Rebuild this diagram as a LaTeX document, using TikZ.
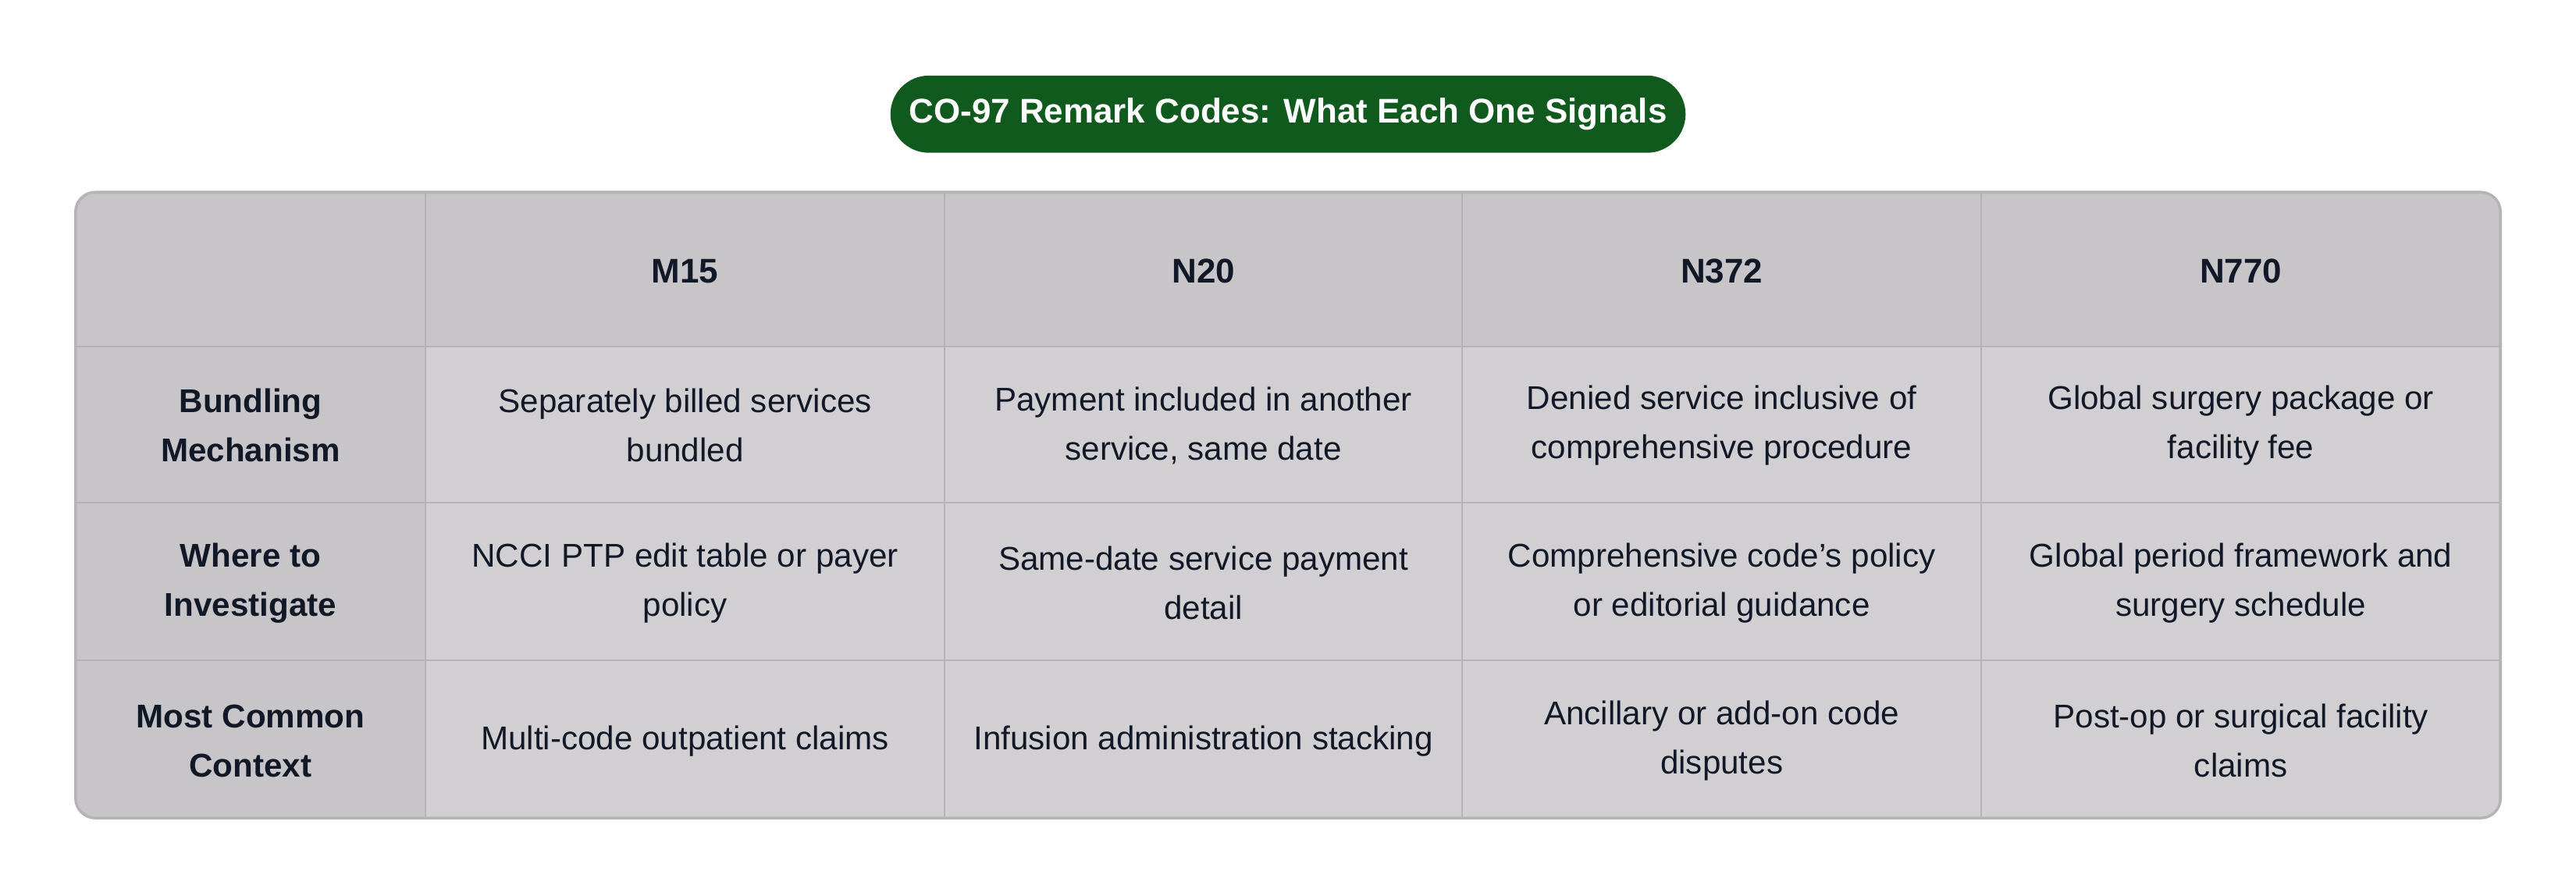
\documentclass[tikz,border=0pt]{standalone}
\usepackage{fontspec}
\setmainfont{Liberation Sans}
\usetikzlibrary{positioning}
\definecolor{titlegreen}{HTML}{115A1E}
\definecolor{headgray}{HTML}{C7C5C7}
\definecolor{cellgray}{HTML}{D1CFD1}
\definecolor{gridgray}{HTML}{B5B3B5}
\definecolor{inkdark}{HTML}{111827}
\begin{document}
\begin{tikzpicture}[
    x=0.021046cm, y=-0.021046cm,
    title_node/.style={fill=titlegreen, text=white, rounded corners=23.5*0.021046cm,
      minimum width=484*0.021046cm, minimum height=47*0.021046cm, font=\fontsize{12.5}{15}\selectfont\bfseries},
    head_node/.style={text=inkdark, font=\fontsize{12.5}{15}\selectfont\bfseries, align=center},
    row_node/.style={text=inkdark, font=\fontsize{12}{18}\selectfont\bfseries, align=center},
    cell_node/.style={text=inkdark, font=\fontsize{12}{18}\selectfont, align=center}
]
\useasboundingbox (0,0) rectangle (1568,545);

% --- TITLE ---
\node[title_node] (title) at (784,69.5) {CO-97 Remark Codes: What Each One Signals};

% --- TABLE BACKGROUND ---
\begin{scope}
\clip[rounded corners=12*0.021046cm] (46,117) rectangle (1522,498);
\fill[cellgray] (46,117) rectangle (1522,498);
\fill[headgray] (46,117) rectangle (1522,211);
\fill[headgray] (46,117) rectangle (259,498);
\foreach \gx in {259,575,890,1206} \draw[gridgray, line width=0.7pt] (\gx,117) -- (\gx,498);
\foreach \gy in {211,306,402} \draw[gridgray, line width=0.7pt] (46,\gy) -- (1522,\gy);
\end{scope}
\draw[gridgray, line width=1pt, rounded corners=12*0.021046cm] (46,117) rectangle (1522,498);

% --- HEADER ---
\node[head_node] (hM15) at (417,165) {M15};
\node[head_node] (hN20) at (732.5,165) {N20};
\node[head_node] (hN372) at (1048,165) {N372};
\node[head_node] (hN770) at (1364,165) {N770};

% --- ROWS ---
\node[row_node] (rBundle) at (152.5,259) {Bundling\\Mechanism};
\node[row_node] (rWhere) at (152.5,355) {Where to\\Investigate};
\node[row_node] (rContext) at (152.5,451) {Most Common\\Context};

\node[cell_node] (c11) at (417,259) {Separately billed services\\bundled};
\node[cell_node] (c12) at (732.5,259) {Payment included in another\\service, same date};
\node[cell_node] (c13) at (1048,259) {Denied service inclusive of\\comprehensive procedure};
\node[cell_node] (c14) at (1364,259) {Global surgery package or\\facility fee};

\node[cell_node] (c21) at (417,355) {NCCI PTP edit table or payer\\policy};
\node[cell_node] (c22) at (732.5,355) {Same-date service payment\\detail};
\node[cell_node] (c23) at (1048,355) {Comprehensive code's policy\\or editorial guidance};
\node[cell_node] (c24) at (1364,355) {Global period framework and\\surgery schedule};

\node[cell_node] (c31) at (417,451) {Multi-code outpatient claims};
\node[cell_node] (c32) at (732.5,451) {Infusion administration stacking};
\node[cell_node] (c33) at (1048,451) {Ancillary or add-on code\\disputes};
\node[cell_node] (c34) at (1364,451) {Post-op or surgical facility\\claims};
\end{tikzpicture}
\end{document}
